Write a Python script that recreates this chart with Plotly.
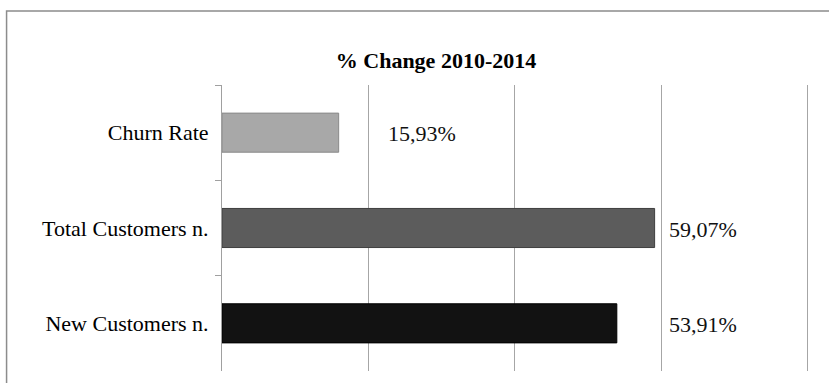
import plotly.graph_objects as go

categories = ["Churn Rate", "Total Customers n.", "New Customers n."]
values = [15.93, 59.07, 53.91]
value_labels = ["15,93%", "59,07%", "53,91%"]
title_text = "% Change 2010-2014"

bar_colors = ["#a8a8a8", "#5c5c5c", "#121212"]
bar_edges = ["#8a8a8a", "#3e3e3e", "#000000"]
label_shifts = [47, 12, 50]

SERIF = "'Liberation Serif', 'Times New Roman', Times, serif"

fig = go.Figure()
fig.add_trace(go.Bar(
    y=categories, x=values, orientation="h",
    marker=dict(color=bar_colors, line=dict(color=bar_edges, width=1)),
    width=0.41, hoverinfo="skip", showlegend=False,
))

for cat, val, lab, sh in zip(categories, values, value_labels, label_shifts):
    fig.add_annotation(x=val, y=cat, xref="x", yref="y", text=lab,
                       showarrow=False, xanchor="left", yanchor="middle",
                       xshift=sh, yshift=-1,
                       font=dict(family=SERIF, size=22, color="#111"))

# chart frame (partly outside the view)
fig.add_shape(type="rect", xref="paper", yref="paper",
              x0=-0.367, x1=1.2, y0=-0.3, y1=1.259,
              line=dict(color="#8c8c8c", width=1.5), fillcolor="rgba(0,0,0,0)")

fig.update_layout(
    width=829, height=383,
    margin=dict(l=222, r=20, t=85, b=12),
    paper_bgcolor="white", plot_bgcolor="white",
    title=dict(text="<b>" + title_text + "</b>", x=436/829, xanchor="center",
               y=0.843, yanchor="middle",
               font=dict(family=SERIF, size=22, color="#000")),
    font=dict(family=SERIF, color="#000"),
)
fig.update_xaxes(range=[0, 80.15], dtick=20, tick0=0, showticklabels=False,
                 showgrid=True, gridcolor="#a6a6a6", gridwidth=1,
                 zeroline=False, showline=False, ticks="")
fig.update_yaxes(autorange="reversed", showline=True, linecolor="#a0a0a0", linewidth=1,
                 ticks="outside", ticklen=6, tickcolor="#a0a0a0", tickson="boundaries",
                 ticklabelstandoff=8, showgrid=False,
                 tickfont=dict(family=SERIF, size=22, color="#000"))

fig.write_html("out.html", config={"displayModeBar": False},
               post_script="document.body.style.margin='0';document.body.style.overflow='hidden';")
